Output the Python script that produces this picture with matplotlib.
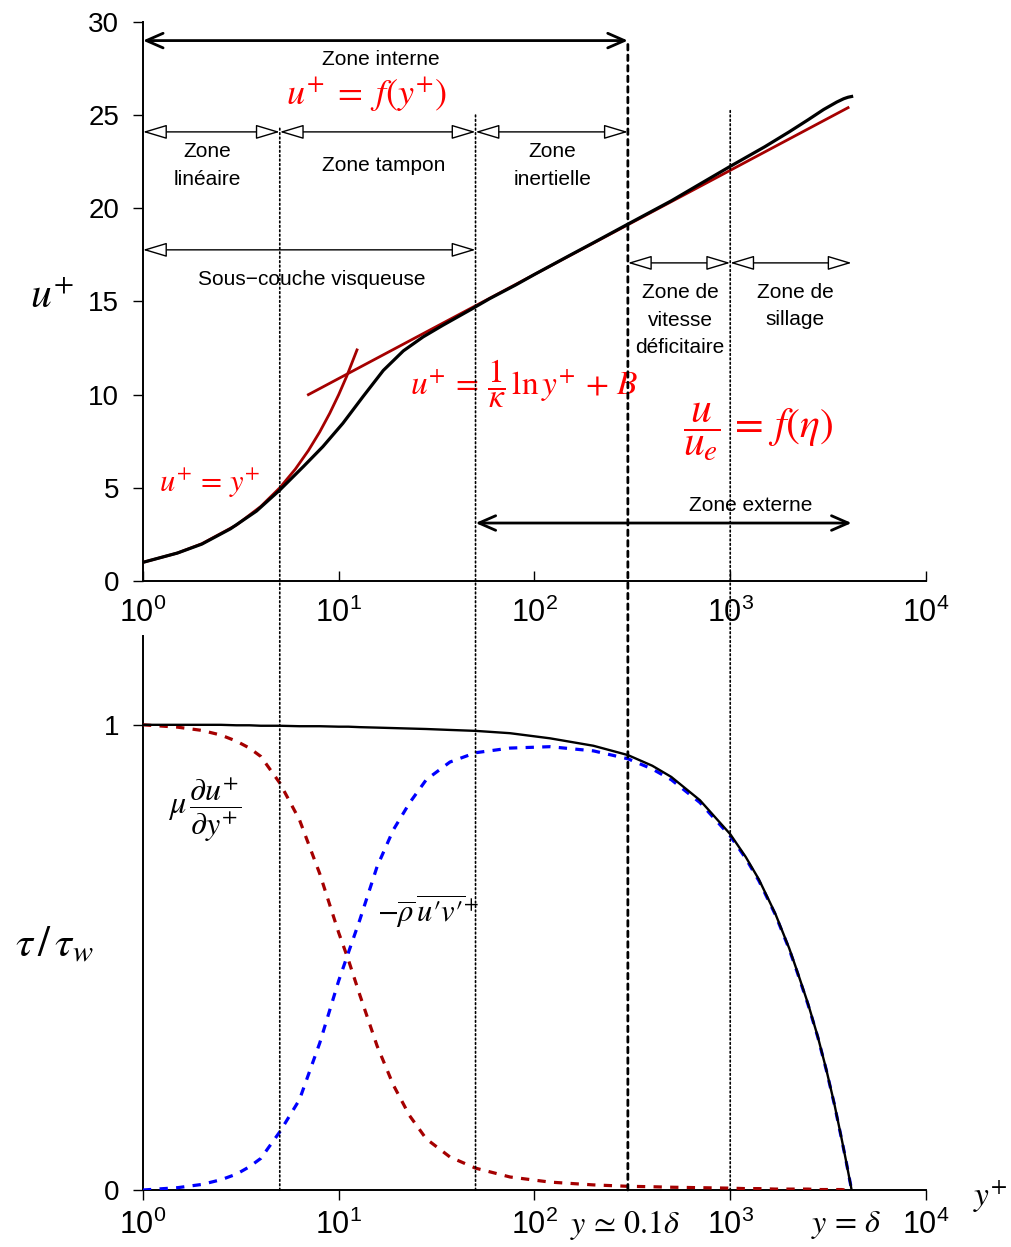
import numpy as np
import matplotlib
matplotlib.use('Agg')
import matplotlib.pyplot as plt
from matplotlib.patches import ConnectionPatch
from matplotlib.ticker import FixedLocator, FuncFormatter, NullLocator

plt.rcParams['font.family'] = ['Liberation Sans', 'DejaVu Sans']
plt.rcParams['mathtext.fontset'] = 'stix'

# --- velocity profile u+ (top panel)
yplus_u = [1, 1.5, 2, 2.8, 3.8, 5, 6.6, 8.3, 10.5, 13.3, 16.9, 21.4, 27, 34, 47, 59, 80,
           100, 150, 200, 300, 500, 700, 1000, 1500, 2000, 2500, 3000, 3500, 3800,
           4000, 4170]
u_plus = [1.0, 1.5, 1.98, 2.8, 3.75, 4.88, 6.14, 7.21, 8.46, 9.89, 11.3, 12.35, 13.1,
          13.72, 14.55, 15.15, 15.88, 16.45, 17.45, 18.15, 19.15, 20.4, 21.3, 22.25,
          23.3, 24.1, 24.75, 25.3, 25.7, 25.88, 25.96, 26.0]

# linear law u+ = y+
yplus_lin = [1, 1.5, 2, 3, 4, 5, 6, 7, 8, 9, 10, 11, 12.4]
u_lin = [1, 1.5, 2, 3, 4, 5, 6, 7, 8, 9, 10, 11, 12.4]

# log law end points
yplus_log = [7, 4000]
u_log = [10.0, 25.4]

# --- shear stress split (bottom panel)
y_tau = [1, 1.5, 2, 2.5, 3, 3.5, 4, 5, 6.3, 8, 10, 11.2, 12.8, 15.7, 19, 23, 28, 37,
         50, 75, 120, 200, 300, 400, 500, 700, 1000, 1200, 1400, 1700, 2000, 2200,
         2500, 2800, 3100, 3400, 3700, 3900, 4170]
tau_total = [1.0, 1.0, 1.0, 1.0, 0.999, 0.999, 0.998, 0.998, 0.997, 0.997, 0.996,
             0.996, 0.995, 0.994, 0.993, 0.992, 0.991, 0.989, 0.987, 0.982, 0.971,
             0.955, 0.935, 0.912, 0.888, 0.838, 0.765, 0.716, 0.668, 0.594, 0.52,
             0.47, 0.40, 0.33, 0.258, 0.186, 0.112, 0.064, 0.0]
tau_visc = [1.0, 0.995, 0.988, 0.978, 0.965, 0.95, 0.932, 0.875, 0.796, 0.68, 0.553,
            0.495, 0.42, 0.31, 0.226, 0.16, 0.11, 0.071, 0.047, 0.028, 0.017, 0.011,
            0.008, 0.007, 0.006, 0.005, 0.004, 0.003, 0.003, 0.002, 0.002, 0.002,
            0.002, 0.001, 0.001, 0.001, 0.001, 0.0, 0.0]
tau_turb = [0.0, 0.005, 0.012, 0.022, 0.034, 0.05, 0.068, 0.125, 0.194, 0.316, 0.45,
            0.51, 0.58, 0.695, 0.774, 0.832, 0.882, 0.92, 0.94, 0.95, 0.953, 0.944,
            0.927, 0.905, 0.882, 0.833, 0.761, 0.713, 0.665, 0.592, 0.518, 0.468,
            0.398, 0.329, 0.257, 0.185, 0.111, 0.064, 0.0]

# zone boundaries (y+) and where the vertical lines start in the top panel
bounds = [5, 50, 300, 1000]
bound_tops = [24.3, 25.1, 29.0, 25.3]
ydelta = 4170

darkred = '#a50000'

fig = plt.figure(figsize=(10.11, 12.47), dpi=100)
ax1 = fig.add_axes([0.1414, 0.5341, 0.7745, 0.4483])
ax2 = fig.add_axes([0.1414, 0.0457, 0.7745, 0.4443])


def decade(v, pos):
    return r'$\mathdefault{10^{%d}}$' % int(round(np.log10(v)))


for ax in (ax1, ax2):
    ax.set_xscale('log')
    ax.set_xlim(1, 1e4)
    ax.xaxis.set_major_locator(FixedLocator([1, 10, 100, 1000, 10000]))
    ax.xaxis.set_major_formatter(FuncFormatter(decade))
    ax.xaxis.set_minor_locator(NullLocator())
    for s in ['top', 'right']:
        ax.spines[s].set_visible(False)
    for s in ['left', 'bottom']:
        ax.spines[s].set_linewidth(1.4)
    ax.tick_params(axis='y', direction='out', length=7, width=1, pad=10, labelsize=20)

ax1.tick_params(axis='x', direction='in', length=7, width=1, pad=12, labelsize=22)
ax2.tick_params(axis='x', direction='out', length=7, width=1, pad=7, labelsize=22)

# top panel
ax1.set_ylim(0, 30)
ax1.set_yticks([0, 5, 10, 15, 20, 25, 30])
ax1.plot(yplus_lin, u_lin, color=darkred, lw=2.0, zorder=3)
ax1.plot(yplus_log, u_log, color=darkred, lw=2.0, zorder=3)
ax1.plot(yplus_u, u_plus, color='black', lw=2.3, zorder=4)

big = dict(arrowstyle='<->,head_length=0.8,head_width=0.35', color='black', lw=2,
           mutation_scale=15, shrinkA=0, shrinkB=0)
small = dict(arrowstyle='<|-|>,head_length=1.0,head_width=0.3', fc='white', ec='black',
             lw=1, mutation_scale=15, shrinkA=0, shrinkB=0)

ax1.annotate('', xy=(300, 29.0), xytext=(1, 29.0), arrowprops=big)
ax1.text(16.4, 28.0, 'Zone interne', ha='center', va='center', fontsize=15)
ax1.text(13.9, 26.1, r'$u^{+}\;=\;f(y^{+})$', color='red', ha='center', va='center',
         fontsize=26)

for a, b in [(1, 5), (5, 50), (50, 300)]:
    ax1.annotate('', xy=(b, 24.1), xytext=(a, 24.1), arrowprops=small)
ax1.text(2.12, 22.3, 'Zone\nlinéaire', ha='center', va='center', fontsize=15, linespacing=1.55)
ax1.text(17, 22.3, 'Zone tampon', ha='center', va='center', fontsize=15)
ax1.text(123, 22.3, 'Zone\ninertielle', ha='center', va='center', fontsize=15, linespacing=1.55)

ax1.annotate('', xy=(50, 17.77), xytext=(1, 17.77), arrowprops=small)
ax1.text(7.3, 16.16, 'Sous\u2212couche visqueuse', ha='center', va='center', fontsize=15)

for a, b in [(300, 1000), (1000, ydelta)]:
    ax1.annotate('', xy=(b, 17.07), xytext=(a, 17.07), arrowprops=small)
ax1.text(554, 14.0, 'Zone de\nvitesse\ndéficitaire', ha='center', va='center', fontsize=15,
         linespacing=1.55)
ax1.text(2142, 14.76, 'Zone de\nsillage', ha='center', va='center', fontsize=15,
         linespacing=1.55)

ax1.annotate('', xy=(ydelta, 3.11), xytext=(50, 3.11), arrowprops=big)
ax1.text(1277, 4.03, 'Zone externe', ha='center', va='center', fontsize=15)

ax1.text(2.2, 5.26, r'$u^{+}\,=\,y^{+}$', color='red', ha='center', va='center', fontsize=22)
ax1.text(89, 10.6, r'$u^{+}\,=\,\dfrac{1}{\kappa}\,\ln y^{+}\,+\,B$', color='red',
         ha='center', va='center', fontsize=24)
ax1.text(1387, 8.0, r'$\dfrac{u}{u_e}\,=\,f(\eta)$', color='red', ha='center', va='center',
         fontsize=30)

# bottom panel
ax2.set_ylim(0, 1.191)
ax2.set_yticks([0, 1])
ax2.plot(y_tau, tau_visc, color=darkred, lw=2.3, dashes=(2.6, 2.6), zorder=3)
ax2.plot(y_tau, tau_turb, color='blue', lw=2.3, dashes=(2.6, 2.6), zorder=3)
ax2.plot(y_tau, tau_total, color='black', lw=1.7, zorder=4)

ax2.text(2.07, 0.817, r'$\mu\,\dfrac{\partial u^{+}}{\partial y^{+}}$', ha='center',
         va='center', fontsize=23)
ax2.text(28.6, 0.598, '$-\\overline{\\rho}\\,\\overline{u\u2032v\u2032}^{+}$', ha='center',
         va='center', fontsize=22)

ax2.text(290, -0.075, r'$y\,\simeq\,0.1\delta$', ha='center', va='center', fontsize=23)
ax2.text(3900, -0.075, r'$y\,=\,\delta$', ha='center', va='center', fontsize=23)
ax2.text(1.082, -0.012, r'$y^{+}$', transform=ax2.transAxes, ha='center', va='center',
         fontsize=24)

fig.text(0.0514, 0.7618, r'$u^{+}$', ha='center', va='center', fontsize=30)
fig.text(0.0544, 0.2422, r'$\tau\,/\,\tau_w$', ha='center', va='center', fontsize=31)

# zone boundaries running through both panels
for x, top in zip(bounds, bound_tops):
    if x == 300:
        ls, lw = (0, (2.0, 1.8)), 2.0
    else:
        ls, lw = ':', 1.2
    con = ConnectionPatch(xyA=(x, 0), coordsA='data', axesA=ax2,
                          xyB=(x, top), coordsB='data', axesB=ax1,
                          color='black', lw=lw, linestyle=ls, zorder=1)
    fig.add_artist(con)

fig.savefig('out.png', dpi=100)
